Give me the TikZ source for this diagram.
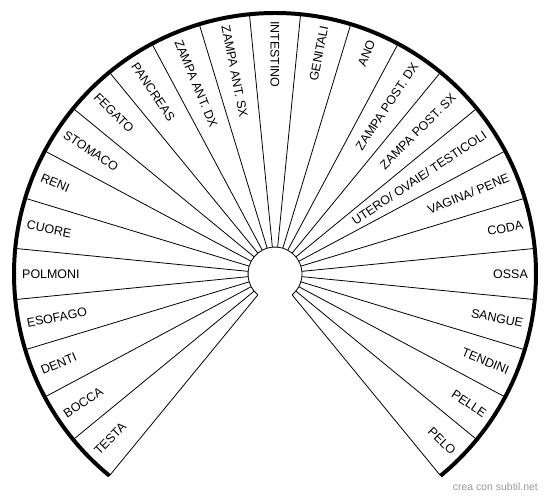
\documentclass[tikz,border=0pt]{standalone}
\usepackage{fontspec}
\setmainfont{Liberation Sans}
\usepackage{tikz}
\usetikzlibrary{positioning}

\tikzset{
  lefttext/.style={anchor=west, inner sep=0pt, font=\fontsize{12.5}{14}\selectfont},
  righttext/.style={anchor=east, inner sep=0pt, font=\fontsize{12.5}{14}\selectfont},
  spoke/.style={line width=0.8pt, black},
  rim/.style={line width=4pt, black}
}

\begin{document}
\begin{tikzpicture}[x=1bp, y=1bp]
\useasboundingbox (0,0) rectangle (550,498);
\begin{scope}[shift={(275,224)}]
% spokes and rims
\foreach \a in {0,...,25}
  \draw[spoke] (230.625-11.25*\a:27) -- (230.625-11.25*\a:261);
\draw[spoke] (230.625:27) arc[start angle=230.625, end angle=-50.625, radius=27];
\draw[rim] (230.625:261) arc[start angle=230.625, end angle=-50.625, radius=261];
% left half, reading inwards
\node[lefttext, rotate=45] (testa) at (225:253) {TESTA};
\node[lefttext, rotate=33.75] (bocca) at (213.75:253) {BOCCA};
\node[lefttext, rotate=22.5] (denti) at (202.5:253) {DENTI};
\node[lefttext, rotate=11.25] (esofago) at (191.25:253) {ESOFAGO};
\node[lefttext, rotate=0] (polmoni) at (180:253) {POLMONI};
\node[lefttext, rotate=-11.25] (cuore) at (168.75:253) {CUORE};
\node[lefttext, rotate=-22.5] (reni) at (157.5:253) {RENI};
\node[lefttext, rotate=-33.75] (stomaco) at (146.25:253) {STOMACO};
\node[lefttext, rotate=-45] (fegato) at (135:253) {FEGATO};
\node[lefttext, rotate=-56.25] (pancreas) at (123.75:253) {PANCREAS};
\node[lefttext, rotate=-67.5] (zampaantdx) at (112.5:253) {ZAMPA ANT. DX};
\node[lefttext, rotate=-78.75] (zampaantsx) at (101.25:253) {ZAMPA ANT. SX};
\node[lefttext, rotate=-90] (intestino) at (90:253) {INTESTINO};
% right half, reading outwards
\node[righttext, rotate=78.75] (genitali) at (78.75:253) {GENITALI};
\node[righttext, rotate=67.5] (ano) at (67.5:253) {ANO};
\node[righttext, rotate=56.25] (zampapostdx) at (56.25:253) {ZAMPA POST. DX};
\node[righttext, rotate=45] (zampapostsx) at (45:253) {ZAMPA POST. SX};
\node[righttext, rotate=33.75] (utero) at (33.75:253) {UTERO/ OVAIE/ TESTICOLI};
\node[righttext, rotate=22.5] (vagina) at (22.5:253) {VAGINA/ PENE};
\node[righttext, rotate=11.25] (coda) at (11.25:253) {CODA};
\node[righttext, rotate=0] (ossa) at (0:253) {OSSA};
\node[righttext, rotate=-11.25] (sangue) at (-11.25:253) {SANGUE};
\node[righttext, rotate=-22.5] (tendini) at (-22.5:253) {TENDINI};
\node[righttext, rotate=-33.75] (pelle) at (-33.75:253) {PELLE};
\node[righttext, rotate=-45] (pelo) at (-45:253) {PELO};
\end{scope}
\node[anchor=east, inner sep=0pt, text=black!40, font=\fontsize{10.5}{12}\selectfont] (credit) at (538,11) {crea con subtil.net};
\end{tikzpicture}
\end{document}
